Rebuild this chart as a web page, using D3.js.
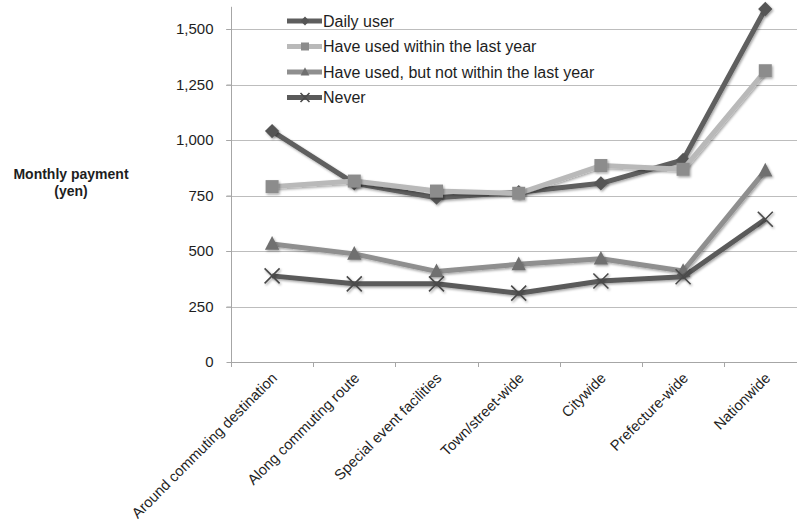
<!DOCTYPE html>
<html>
<head>
<meta charset="utf-8">
<script src="https://cdn.jsdelivr.net/npm/d3@7"></script>
<style>
  html, body { margin: 0; padding: 0; background: #fff; }
  svg { display: block; font-family: "Liberation Sans", Arial, sans-serif; }
</style>
</head>
<body>
<svg id="chart" width="797" height="524"></svg>
<script>
const categories = ["Around commuting destination", "Along commuting route", "Special event facilities",
  "Town/street-wide", "Citywide", "Prefecture-wide", "Nationwide"];
const seriesNames = ["Daily user", "Have used within the last year",
  "Have used, but not within the last year", "Never"];
const dailyUser = [1040, 805, 740, 765, 805, 910, 1590];
const usedLastYear = [790, 815, 770, 760, 885, 868, 1312];
const usedNotLastYear = [532, 487, 408, 440, 465, 410, 862];
const never = [388, 352, 352, 310, 365, 384, 643];
const yTicks = [0, 250, 500, 750, 1000, 1250, 1500];
const yTitle = ["Monthly payment", "(yen)"];

const series = [
  { name: seriesNames[0], values: dailyUser, line: "#5e5e5e", marker: "diamond", fill: "#555555" },
  { name: seriesNames[1], values: usedLastYear, line: "#b9b9b9", marker: "square", fill: "#8c8c8c" },
  { name: seriesNames[2], values: usedNotLastYear, line: "#8f8f8f", marker: "triangle", fill: "#6f6f6f" },
  { name: seriesNames[3], values: never, line: "#5a5a5a", marker: "x", fill: "#4a4a4a" }
];

const svg = d3.select("#chart");
const defs = svg.append("defs");
const f = defs.append("filter").attr("id", "sh").attr("x", "-50%").attr("y", "-50%").attr("width", "200%").attr("height", "200%");
f.append("feDropShadow").attr("dx", 1.2).attr("dy", 1.5).attr("stdDeviation", 1.2).attr("flood-color", "#000").attr("flood-opacity", 0.35);

const x = d3.scaleBand().domain(categories).range([231, 806.4]);
const y = d3.scaleLinear().domain([0, 1600]).range([362, 362 - 1600 * 0.222]);

// gridlines
svg.append("g").selectAll("line").data(yTicks.filter(d => d > 0)).join("line")
  .attr("x1", 226).attr("x2", 797)
  .attr("y1", d => Math.round(y(d)) + 0.5).attr("y2", d => Math.round(y(d)) + 0.5)
  .attr("stroke", "#bdbdbd").attr("stroke-width", 1);

// y axis
const yAxis = svg.append("g").attr("transform", "translate(231.5,0)")
  .call(d3.axisLeft(y).tickValues(yTicks).tickSize(5).tickPadding(13).tickFormat(d3.format(",")));
yAxis.select(".domain").attr("stroke", "#a6a6a6").attr("d", `M0,${y(1600)}V${Math.round(y(0)) + 0.5}`);
yAxis.selectAll(".tick line").attr("stroke", "#a6a6a6");
yAxis.selectAll(".tick text").attr("font-size", 15).attr("fill", "#1e1e1e").attr("font-family", "Liberation Sans, Arial, sans-serif");

// x axis
const xAxis = svg.append("g").attr("transform", `translate(0,${Math.round(y(0)) + 0.5})`)
  .call(d3.axisBottom(x).tickSize(0).tickFormat(""));
xAxis.select(".domain").attr("stroke", "#a6a6a6").attr("d", "M231,0H797");
svg.append("g").selectAll("line").data(categories).join("line")
  .attr("x1", d => Math.round(x(d)) + 0.5).attr("x2", d => Math.round(x(d)) + 0.5)
  .attr("y1", Math.round(y(0))).attr("y2", Math.round(y(0)) + 5)
  .attr("stroke", "#a6a6a6");
svg.append("g").selectAll("text").data(categories).join("text")
  .attr("transform", d => `translate(${x(d) + x.bandwidth() / 2 + 6},379) rotate(-45)`)
  .attr("text-anchor", "end").attr("font-size", 14.7).attr("fill", "#1e1e1e")
  .text(d => d);

// y title
svg.append("text").attr("x", 71).attr("y", 179).attr("text-anchor", "middle")
  .attr("font-weight", "bold").attr("font-size", 14).attr("fill", "#1e1e1e").text(yTitle[0]);
svg.append("text").attr("x", 71).attr("y", 196).attr("text-anchor", "middle")
  .attr("font-weight", "bold").attr("font-size", 14).attr("fill", "#1e1e1e").text(yTitle[1]);

function drawMarker(g, type, cx, cy, s, fill) {
  if (type === "diamond") {
    g.append("path").attr("d", `M${cx},${cy - s * 0.55}L${cx + s * 0.55},${cy}L${cx},${cy + s * 0.55}L${cx - s * 0.55},${cy}Z`)
      .attr("fill", fill);
  } else if (type === "square") {
    g.append("rect").attr("x", cx - s / 2).attr("y", cy - s / 2).attr("width", s).attr("height", s).attr("fill", fill);
  } else if (type === "triangle") {
    g.append("path").attr("d", `M${cx},${cy - s * 0.6}L${cx + s * 0.55},${cy + s * 0.45}L${cx - s * 0.55},${cy + s * 0.45}Z`)
      .attr("fill", fill);
  } else {
    const h = s * 0.5;
    g.append("path").attr("d", `M${cx - h},${cy - h}L${cx + h},${cy + h}M${cx - h},${cy + h}L${cx + h},${cy - h}`)
      .attr("stroke", fill).attr("stroke-width", 1.6).attr("fill", "none");
  }
}

const lineGen = d3.line().x((d, i) => x(categories[i]) + x.bandwidth() / 2).y(d => y(d));
const plot = svg.append("g");
series.forEach(s => {
  const g = plot.append("g");
  g.append("path").datum(s.values).attr("d", lineGen)
    .attr("fill", "none").attr("stroke", s.line).attr("stroke-width", 5)
    .attr("stroke-linejoin", "round").attr("filter", "url(#sh)");
  const mg = g.append("g").attr("filter", "url(#sh)");
  s.values.forEach((v, i) => {
    drawMarker(mg, s.marker, x(categories[i]) + x.bandwidth() / 2, y(v), s.marker === "x" ? 15 : 13, s.fill);
  });
});

// legend
const legend = svg.append("g");
series.forEach((s, i) => {
  const ly = 21 + i * 25.5;
  const g = legend.append("g");
  g.append("line").attr("x1", 287).attr("x2", 322).attr("y1", ly).attr("y2", ly)
    .attr("stroke", s.line).attr("stroke-width", 5);
  drawMarker(g, s.marker, 305, ly, s.marker === "x" ? 9 : 8, s.fill);
  g.append("text").attr("x", 323).attr("y", ly).attr("dy", "0.35em")
    .attr("font-size", 16).attr("fill", "#1e1e1e").text(s.name);
});
</script>
</body>
</html>
